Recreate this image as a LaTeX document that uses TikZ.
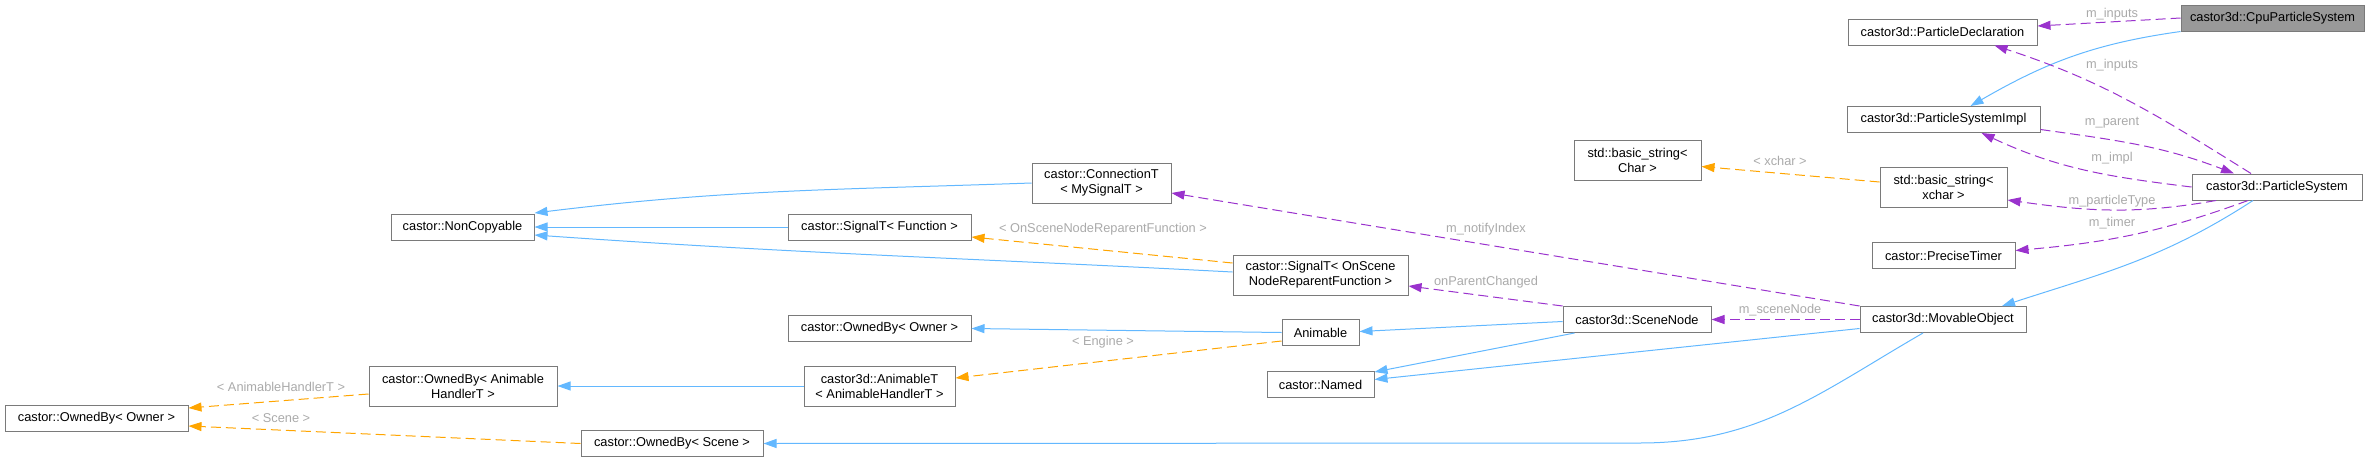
\documentclass[tikz,border=0pt]{standalone}
\usepackage{fontspec}
\setmainfont{Liberation Sans}
\usetikzlibrary{arrows.meta}
\usetikzlibrary{positioning}

\definecolor{inheritblue}{HTML}{63B8FF}
\definecolor{usagepurple}{HTML}{9A32CD}
\definecolor{tmplorange}{HTML}{FFA500}
\definecolor{boxborder}{HTML}{7A7A7A}
\definecolor{curfill}{HTML}{999999}
\definecolor{lblgray}{HTML}{AAAAAA}

\newcommand{\dxfont}{\fontsize{12.8}{15}\selectfont}

\tikzset{
  every node/.style={font=\dxfont},
  cls/.style={ % one class box
    draw=boxborder, line width=1pt, fill=white,
    minimum height=26, inner sep=1pt},
  clstwo/.style={cls, minimum height=40, align=center},
  curcls/.style={cls, fill=curfill},   % the class the graph is about
  inherit/.style={ % public base class
    draw=inheritblue, line width=1pt,
    -{Triangle[length=13pt,width=9pt]}},
  usage/.style={ % member of that type
    draw=usagepurple, line width=1pt, dash pattern=on 10pt off 5pt,
    -{Triangle[length=13pt,width=9pt]}},
  tmplinst/.style={ % template instance
    draw=tmplorange, line width=1pt, dash pattern=on 10pt off 5pt,
    -{Triangle[length=13pt,width=9pt]}},
  lbl/.style={text=lblgray, inner sep=0}
}

\begin{document}
\begin{tikzpicture}[x=1pt, y=-1pt]
  \useasboundingbox (0,0) rectangle (2379,461);

  % right column
  \node [curcls, minimum width=183] (cpu) at (2272.5,18) {castor3d::CpuParticleSystem};
  \node [cls, minimum width=189] (pdecl) at (1942.5,32) {castor3d::ParticleDeclaration};
  \node [cls, minimum width=193] (psimpl) at (1943.5,119.5) {castor3d::ParticleSystemImpl};
  \node [clstwo, minimum width=127] (bsx) at (1943.5,187) {std::basic\_string<\\xchar >};
  \node [cls, minimum width=170] (ps) at (2277,187) {castor3d::ParticleSystem};
  \node [cls, minimum width=143] (timer) at (1943.5,255.5) {castor::PreciseTimer};
  \node [cls, minimum width=166] (movable) at (1943,319.5) {castor3d::MovableObject};

  % middle
  \node [clstwo, minimum width=127] (bsc) at (1637.5,160.5) {std::basic\_string<\\Char >};
  \node [cls, minimum width=148] (scenenode) at (1637,319.5) {castor3d::SceneNode};
  \node [clstwo, minimum width=139] (conn) at (1101.5,183) {castor::ConnectionT\\< MySignalT >};
  \node [clstwo, minimum width=175] (sigscene) at (1320.5,275) {castor::SignalT< OnScene\\NodeReparentFunction >};
  \node [cls, minimum width=77] (animable) at (1320.5,332.5) {Animable};
  \node [cls, minimum width=107] (named) at (1320.5,384.5) {castor::Named};

  % left
  \node [cls, minimum width=143] (noncopy) at (462.5,227) {castor::NonCopyable};
  \node [cls, minimum width=183] (sigfunc) at (879.5,227) {castor::SignalT< Function >};
  \node [cls, minimum width=183] (ownedmid) at (879.5,328.5) {castor::OwnedBy< Owner >};
  \node [clstwo, minimum width=151] (animT) at (879.5,386) {castor3d::AnimableT\\< AnimableHandlerT >};
  \node [cls, minimum width=182] (ownedscene) at (672,443.5) {castor::OwnedBy< Scene >};
  \node [clstwo, minimum width=188] (ownedaht) at (463,386) {castor::OwnedBy< Animable\\HandlerT >};
  \node [cls, minimum width=183] (ownedleft) at (96.5,418) {castor::OwnedBy< Owner >};

  \coordinate (msbend) at (1640,443);

  % particle systems
  \draw [usage] (cpu.west) -- ([yshift=6]pdecl.east)
    node [lbl, at={(2112,14)}] {m\_inputs};
  \draw [inherit] (cpu.south west) to[out=188, in=30] ([xshift=27]psimpl.north);
  \draw [usage] ([xshift=-26]ps.north) to[out=148, in=-18] ([xshift=52]pdecl.south)
    node [lbl, at={(2112,65)}] {m\_inputs};
  \draw [usage] ([yshift=-10]psimpl.east) to[out=-8, in=159] ([xshift=-43]ps.north)
    node [lbl, at={(2112,123)}] {m\_parent};
  \draw [usage] (ps.west) to[out=173, in=-25] ([xshift=38]psimpl.south)
    node [lbl, at={(2112,158)}] {m\_impl};
  \draw [usage] ([xshift=-61]ps.south) to[out=190, in=-8] ([yshift=-13]bsx.east)
    node [lbl, at={(2112,201)}] {m\_particleType};
  \draw [usage] ([xshift=-29]ps.south) to[out=200, in=5] ([yshift=5]timer.east)
    node [lbl, at={(2112,223)}] {m\_timer};
  \draw [inherit] ([xshift=-24]ps.south) to[out=213, in=18] ([xshift=59]movable.north);
  \draw [tmplinst] ([yshift=5]bsx.west) -- ([yshift=-6]bsc.east)
    node [lbl, at={(1780,161)}] {< xchar >};

  % movable object and scene node
  \draw [usage] (movable.north west) -- ([yshift=-10]conn.east)
    node [lbl, at={(1486,229)}] {m\_notifyIndex};
  \draw [usage] (movable.west) -- (scenenode.east)
    node [lbl, at={(1780,310)}] {m\_sceneNode};
  \draw [inherit] ([yshift=-9]movable.west) -- ([yshift=5]named.east);
  \draw [inherit] ([xshift=-20]movable.south) to[out=210, in=0] (msbend) -- (ownedscene.east);
  \draw [usage] (scenenode.north west) -- ([yshift=-11]sigscene.east)
    node [lbl, at={(1486,282)}] {onParentChanged};
  \draw [inherit] ([yshift=-2]scenenode.west) -- ([yshift=1]animable.east);
  \draw [inherit] ([xshift=12]scenenode.south west) -- ([yshift=-1]named.north east);

  % signals
  \draw [inherit] (conn.west) to[out=182, in=7] ([yshift=14]noncopy.east);
  \draw [inherit] (sigfunc.west) -- (noncopy.east);
  \draw [inherit] ([yshift=3]sigscene.west) to[out=177, in=-4] ([yshift=-8]noncopy.east);
  \draw [tmplinst] ([yshift=12]sigscene.west) -- ([yshift=-10]sigfunc.east)
    node [lbl, at={(1103,229)}] {< OnSceneNodeReparentFunction >};

  % owners
  \draw [inherit] (animable.west) -- (ownedmid.east);
  \draw [tmplinst] ([yshift=5]animable.south west) -- ([yshift=8]animT.east)
    node [lbl, at={(1103,342)}] {< Engine >};
  \draw [inherit] (animT.west) -- (ownedaht.east);
  \draw [tmplinst] ([yshift=-8]ownedaht.west) -- ([yshift=10]ownedleft.east)
    node [lbl, at={(281,387)}] {< AnimableHandlerT >};
  \draw [tmplinst] (ownedscene.west) -- ([yshift=-8]ownedleft.east)
    node [lbl, at={(281,418)}] {< Scene >};

\end{tikzpicture}
\end{document}
